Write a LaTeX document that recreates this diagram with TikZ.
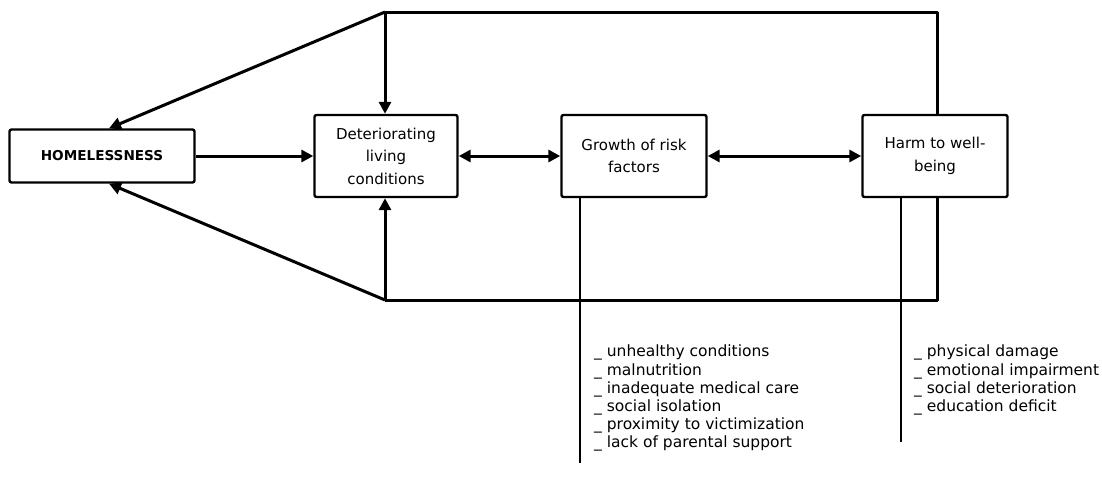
\documentclass[tikz,border=0pt]{standalone}
\usepackage{fontspec}
\setmainfont{DejaVu Sans}
\usetikzlibrary{arrows.meta, positioning, calc}

\begin{document}
\begin{tikzpicture}[
		x=1pt, y=-1pt,
		box/.style={draw, rectangle, rounded corners=2pt, line width=2.4pt, align=center,
				inner sep=0pt, font=\fontsize{15}{22.5}\selectfont},
		link/.style={line width=3pt},
		arrow/.style={link, -{Triangle[length=12pt,width=12pt]}},
		twoway/.style={link, {Triangle[length=12pt,width=12pt]}-{Triangle[length=12pt,width=12pt]}},
		drop/.style={line width=2pt},
		items/.style={align=left, anchor=north west, inner sep=0pt,
				font=\fontsize{15.5}{18.2}\selectfont},
	]
	\useasboundingbox (0,0) rectangle (1102,480);

	% -- all boxes --

	\node [box,minimum width=185pt,minimum height=53pt,font=\fontsize{13.6}{14}\selectfont\bfseries]
	(home) at (102, 156) {HOMELESSNESS};
	\node [box,minimum width=143pt,minimum height=82pt] (det) at (386, 156)
	{Deteriorating\\living\\conditions};
	\node [box,minimum width=145pt,minimum height=82pt] (growth) at (634, 156)
	{Growth of risk\\factors};
	\node [box,minimum width=145pt,minimum height=82pt] (harm) at (935, 156)
	{Harm to well-\\being};

	% -- feedback corners --
	\coordinate (tl) at (385, 12);
	\coordinate (tr) at (937, 12);
	\coordinate (bl) at (385, 300);
	\coordinate (br) at (937, 300);

	% -- main chain --
	\draw[arrow] (home) -- (det);
	\draw[twoway] (det) -- (growth);
	\draw[twoway] (growth) -- (harm);

	% -- loop over the top --
	\draw[link, line join=round] (harm.north -| tr) -- (tr) -- (tl);
	\draw[arrow] (tl) -- (det.north -| tl);
	\draw[arrow] (tl) -- ($(home.north)+(7,0)$);

	% -- loop under the bottom --
	\draw[link, line join=round] (harm.south -| br) -- (br) -- (bl);
	\draw[arrow] (bl) -- (det.south -| bl);
	\draw[arrow] (bl) -- ($(home.south)+(7,0)$);

	% -- lists of factors --
	\coordinate (gend) at (580, 463);
	\coordinate (hend) at (901, 442);
	\draw[drop] (growth.south -| gend) -- (gend);
	\draw[drop] (harm.south -| hend) -- (hend);

	\node [items] (glist) at (594, 345) {
		\_ unhealthy conditions\\
		\_ malnutrition\\
		\_ inadequate medical care\\
		\_ social isolation\\
		\_ proximity to victimization\\
		\_ lack of parental support
	};
	\node [items] (hlist) at (914, 345) {
		\_ physical damage\\
		\_ emotional impairment\\
		\_ social deterioration\\
		\_ education deficit
	};
\end{tikzpicture}
\end{document}
